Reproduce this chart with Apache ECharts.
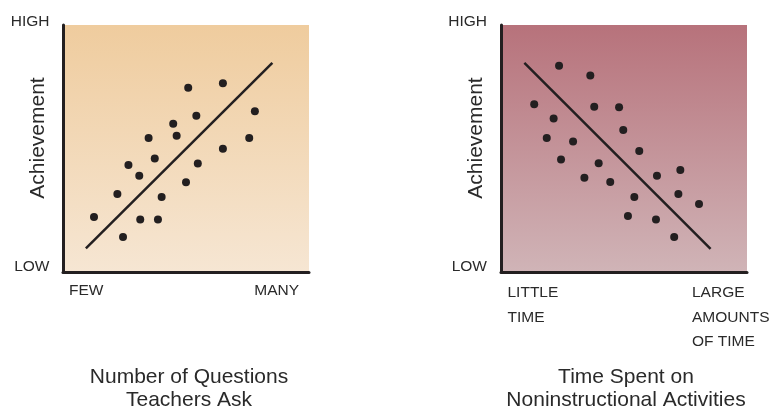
<!DOCTYPE html>
<html>
<head>
<meta charset="utf-8">
<script src="https://cdn.jsdelivr.net/npm/echarts@6/dist/echarts.min.js"></script>
<style>
html,body{margin:0;padding:0;background:#fff;}
#chart{width:772px;height:408px;}
</style>
</head>
<body>
<div id="chart"></div>
<script>
// Left panel: Number of questions teachers ask vs achievement (0-100 relative scale)
var leftX = [12.6, 24.4, 22.1, 26.6, 31.0, 31.4, 34.8, 37.3, 38.6, 40.1, 44.8, 46.2, 50.0, 50.9, 54.2, 54.8, 65.0, 65.0, 75.7, 78.0];
var leftY = [22.3, 14.2, 31.6, 43.3, 39.0, 21.3, 54.3, 46.0, 21.3, 30.4, 60.0, 55.2, 36.3, 74.6, 63.3, 43.9, 76.4, 49.9, 54.3, 65.1];
var leftTrendX = [9.3, 85.1];
var leftTrendY = [9.6, 84.7];

// Right panel: Time spent on noninstructional activities vs achievement
var rightX = [23.6, 36.3, 13.5, 37.9, 48.0, 21.4, 49.7, 18.6, 29.3, 56.2, 24.4, 39.7, 33.9, 44.4, 63.4, 72.9, 54.2, 72.1, 80.5, 51.6, 63.0, 70.4];
var rightY = [83.5, 79.6, 67.9, 66.9, 66.7, 62.1, 57.5, 54.3, 52.8, 49.0, 45.5, 44.0, 38.2, 36.4, 39.0, 41.3, 30.4, 31.6, 27.5, 22.7, 21.3, 14.2];
var rightTrendX = [9.5, 85.2];
var rightTrendY = [84.7, 9.4];

var yTickLabels = ['HIGH', 'LOW'];
var leftXTickLabels = ['FEW', 'MANY'];
var rightXTickLabels = ['LITTLE\nTIME', 'LARGE\nAMOUNTS\nOF TIME'];
var yAxisName = 'Achievement';
var leftTitle = 'Number of Questions\nTeachers Ask';
var rightTitle = 'Time Spent on\nNoninstructional Activities';

function zip(xs, ys) { return xs.map(function (x, i) { return [x, ys[i]]; }); }

var FONT = '"Liberation Sans", Arial, Helvetica, sans-serif';
var INK = '#231f20';
var TXT = '#2a2a2a';

function axis() {
  return {
    type: 'value', min: 0, max: 100,
    axisLine: { show: true, onZero: false, lineStyle: { color: INK, width: 3 } },
    axisTick: { show: false }, axisLabel: { show: false }, splitLine: { show: false }
  };
}
function grad(top, bottom) {
  return { type: 'linear', x: 0, y: 0, x2: 0, y2: 1,
    colorStops: [{ offset: 0, color: top }, { offset: 1, color: bottom }] };
}
function txt(x, y, s, size, align, vAlign, rot, lh) {
  return { type: 'text', x: x, y: y, rotation: rot || 0, silent: true,
    style: { text: s, fill: TXT, font: size + 'px ' + FONT, align: align, verticalAlign: vAlign, lineHeight: lh || size } };
}

var chart = echarts.init(document.getElementById('chart'), null, { renderer: 'canvas' });
chart.setOption({
  animation: false,
  backgroundColor: '#ffffff',
  grid: [
    { left: 63, top: 25, width: 246, height: 247, show: true, borderWidth: 0, backgroundColor: grad('#efcc9e', '#f6e6d3') },
    { left: 501, top: 25, width: 246, height: 247, show: true, borderWidth: 0, backgroundColor: grad('#b7727b', '#d0b4b7') }
  ],
  xAxis: [Object.assign(axis(), { gridIndex: 0 }), Object.assign(axis(), { gridIndex: 1 })],
  yAxis: [Object.assign(axis(), { gridIndex: 0 }), Object.assign(axis(), { gridIndex: 1 })],
  series: [
    { type: 'line', xAxisIndex: 0, yAxisIndex: 0, data: zip(leftTrendX, leftTrendY), symbol: 'none',
      lineStyle: { color: INK, width: 2.5 }, z: 2 },
    { type: 'scatter', xAxisIndex: 0, yAxisIndex: 0, data: zip(leftX, leftY), symbolSize: 8,
      itemStyle: { color: INK, opacity: 1 }, z: 3 },
    { type: 'line', xAxisIndex: 1, yAxisIndex: 1, data: zip(rightTrendX, rightTrendY), symbol: 'none',
      lineStyle: { color: INK, width: 2.5 }, z: 2 },
    { type: 'scatter', xAxisIndex: 1, yAxisIndex: 1, data: zip(rightX, rightY), symbolSize: 8,
      itemStyle: { color: INK, opacity: 1 }, z: 3 }
  ],
  graphic: [
    txt(49.5, 22, yTickLabels[0], 15.5, 'right', 'middle'),
    txt(49.5, 267, yTickLabels[1], 15.5, 'right', 'middle'),
    txt(38.5, 138, yAxisName, 21, 'center', 'middle', Math.PI / 2),
    txt(69, 291, leftXTickLabels[0], 15.5, 'left', 'middle'),
    txt(299, 291, leftXTickLabels[1], 15.5, 'right', 'middle'),
    txt(189, 366, leftTitle, 21, 'center', 'top', 0, 23),
    txt(487, 22, yTickLabels[0], 15.5, 'right', 'middle'),
    txt(487, 267, yTickLabels[1], 15.5, 'right', 'middle'),
    txt(476, 138, yAxisName, 21, 'center', 'middle', Math.PI / 2),
    txt(507.5, 281, rightXTickLabels[0], 15.5, 'left', 'top', 0, 24.3),
    txt(692, 281, rightXTickLabels[1], 15.5, 'left', 'top', 0, 24.3),
    txt(626, 366, rightTitle, 21, 'center', 'top', 0, 23)
  ]
});
</script>
</body>
</html>
